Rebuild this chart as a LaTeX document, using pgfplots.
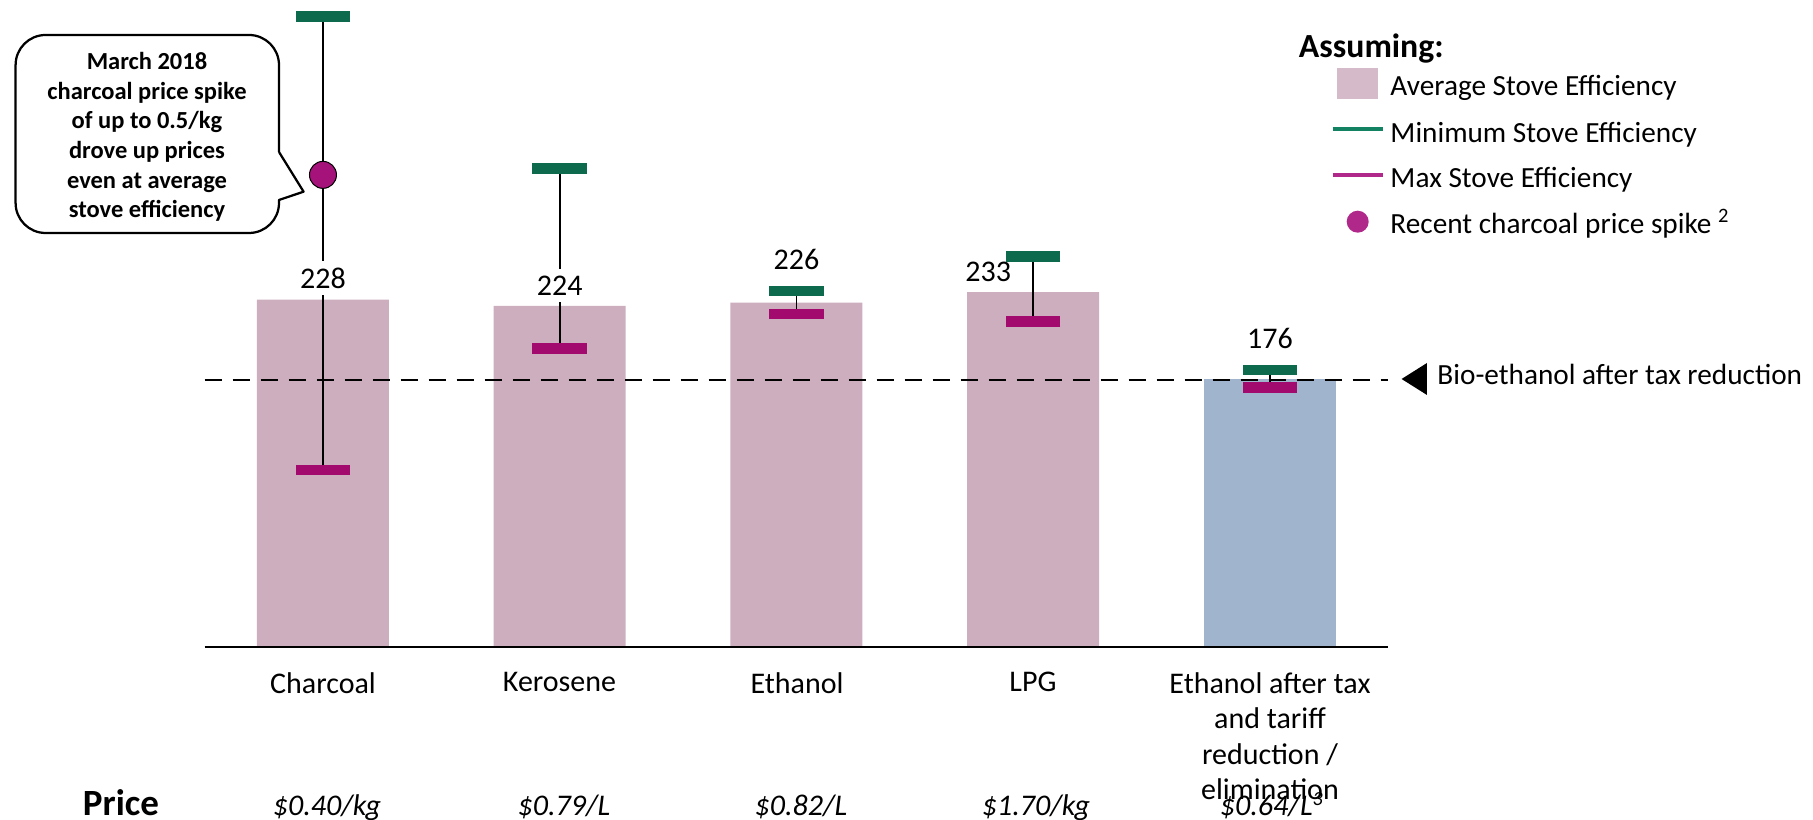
\documentclass[border=0pt]{standalone}
\usepackage{pgfplots}
\pgfplotsset{compat=1.18}
\usepackage{fontspec}
\setmainfont{Carlito}

\definecolor{barpink}{HTML}{CDAEBE}
\definecolor{barblue}{HTML}{A0B4CE}
\definecolor{mingreen}{HTML}{0E6A4C}
\definecolor{maxpurple}{HTML}{A20A6E}
\definecolor{leggreen}{HTML}{138262}
\definecolor{legpurple}{HTML}{B0288A}
\definecolor{legpink}{HTML}{D5BACA}
\definecolor{spike}{HTML}{A5127A}

\newcommand{\fs}[1]{\fontsize{#1}{1.2\dimexpr#1pt\relax}\selectfont}

\begin{document}
\begin{tikzpicture}
\useasboundingbox (0,0) rectangle (725.2pt,-328pt);
\begin{axis}[
  at={(81.84pt,-258.68pt)}, anchor=south west,
  scale only axis, width=473.5pt, height=255.7pt,
  xmin=-0.5, xmax=4.5, ymin=0, ymax=420,
  hide axis, clip=false,
]
% bars (average stove efficiency)
\addplot[ybar, bar width=52.8pt, bar shift=0pt, fill=barpink, draw=none]
  coordinates {(0,228) (1,224) (2,226) (3,233)};
\addplot[ybar, bar width=52.8pt, bar shift=0pt, fill=barblue, draw=none]
  coordinates {(4,176)};
% baseline and bio-ethanol reference
\addplot[black, line width=0.85pt] coordinates {(-0.5,0) (4.5,0)};
\addplot[black, line width=0.8pt, dash pattern=on 6.8pt off 4.4pt]
  coordinates {(-0.5,175.2) (4.5,175.2)};
% min / max stove efficiency
\addplot[only marks, mark=-, mark size=10.9pt, mark options={line width=4.3pt, draw=mingreen}]
  coordinates {(0,414) (1,314.3) (2,233.7) (3,256.2) (4,181.8)};
\addplot[only marks, mark=-, mark size=10.9pt, mark options={line width=4.3pt, draw=maxpurple}]
  coordinates {(0,116.1) (1,196) (2,218.6) (3,213.5) (4,170.4)};
% charcoal price spike
\addplot[only marks, mark=*, mark size=5.4pt, mark options={fill=spike, draw=none}]
  coordinates {(0,310)};
% range lines
\addplot[black, line width=0.7pt] coordinates {(0,414) (0,116.1)};
\addplot[black, line width=0.7pt] coordinates {(1,314.3) (1,196)};
\addplot[black, line width=0.7pt] coordinates {(2,233.7) (2,218.6)};
\addplot[black, line width=0.7pt] coordinates {(3,256.2) (3,213.5)};
\addplot[black, line width=0.7pt] coordinates {(4,181.8) (4,170.4)};
% value labels
\node[anchor=base, fill=white, inner sep=2.7pt, font=\fs{12}] at (axis cs:0,235.5) {228};
\node[anchor=base, fill=white, inner sep=2.7pt, font=\fs{12}] at (axis cs:1,230.7) {224};
\node[anchor=base, inner sep=0pt, font=\fs{12}] at (axis cs:2,247.5) {226};
\node[anchor=base, inner sep=0pt, font=\fs{12}] at (axis cs:2.81,239.9) {233};
\node[anchor=base, inner sep=0pt, font=\fs{12}] at (axis cs:4,196.1) {176};
\end{axis}

\begin{scope}[x=0.4pt, y=-0.4pt]
% callout
\draw[line width=0.9pt, line join=round] (279,152) -- (303.6,191.7) -- (279,200)
  [rounded corners=12pt] -- (279,233) -- (15.6,233) -- (15.6,35) -- (279,35) -- (279,152);
\node[align=center, inner sep=0pt, font=\bfseries\fontsize{9.8}{11.85}\selectfont] at (147,137)
  {March 2018\\charcoal price spike\\of up to 0.5/kg\\drove up prices\\even at average\\stove efficiency};

% legend
\node[anchor=base west, inner sep=0pt, font=\bfseries\fs{13.5}] at (1298.5,58) {Assuming:};
\fill[legpink] (1337,68) rectangle (1378.5,99);
\node[anchor=base west, inner sep=0pt, font=\fs{11.7}] at (1390,96) {Average Stove Efficiency};
\draw[leggreen, line width=1.5pt] (1332.6,129) -- (1383,129);
\node[anchor=base west, inner sep=0pt, font=\fs{11.7}] at (1390,142.7) {Minimum Stove Efficiency};
\draw[legpurple, line width=1.5pt] (1332.6,175.3) -- (1383,175.3);
\node[anchor=base west, inner sep=0pt, font=\fs{11.7}] at (1390,187.3) {Max Stove Efficiency};
\fill[legpurple] (1357.7,221.7) circle (4.4pt);
\node[anchor=base west, inner sep=0pt, font=\fs{11.7}] at (1390,233.3) {Recent charcoal price spike \textsuperscript{2}};

% bio-ethanol marker
\fill[black] (1427,363) -- (1427,395) -- (1401.6,379) -- cycle;
\node[anchor=base west, inner sep=0pt, font=\fs{11.7}] at (1437,385) {Bio-ethanol after tax reduction};

% category labels
\foreach \x/\t in {323/Charcoal, 559.5/Kerosene, 797/Ethanol, 1033/LPG}
  \node[anchor=north, inner sep=0pt, font=\fs{12}] at (\x,672) {\t};
\node[anchor=north, inner sep=0pt, align=center, font=\fontsize{12}{14.2}\selectfont] at (1270,672)
  {Ethanol after tax\\and tariff\\reduction /\\elimination};

% price row
\node[anchor=base, inner sep=0pt, font=\bfseries\fs{14.8}] at (121,816) {Price};
\node[anchor=base, inner sep=0pt, font=\itshape\fs{12}] at (327,816) {\$0.40/kg};
\node[anchor=base, inner sep=0pt, font=\itshape\fs{12}] at (564,816) {\$0.79/L};
\node[anchor=base, inner sep=0pt, font=\itshape\fs{12}] at (801,816) {\$0.82/L};
\node[anchor=base, inner sep=0pt, font=\itshape\fs{12}] at (1036,816) {\$1.70/kg};
\node[anchor=base, inner sep=0pt, font=\itshape\fs{12}] at (1272,816) {\$0.64/L\textsuperscript{3}};
\end{scope}
\end{tikzpicture}
\end{document}
